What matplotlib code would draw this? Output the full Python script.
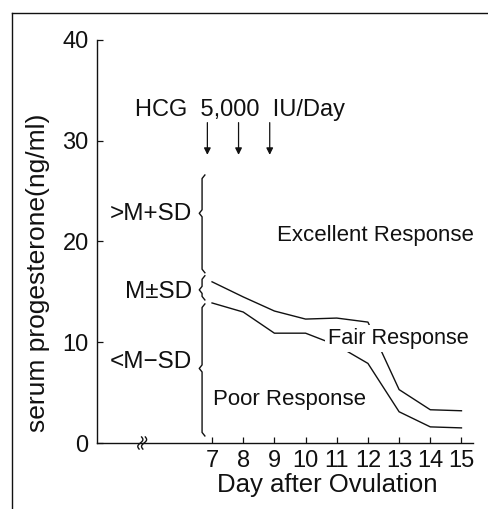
import numpy as np
import matplotlib
matplotlib.use("Agg")
import matplotlib.pyplot as plt
from matplotlib.lines import Line2D

plt.rcParams['font.family'] = ['Liberation Sans', 'DejaVu Sans']

# data
days = [7, 8, 9, 10, 11, 12, 13, 14, 15]
upper_sd = [16.0, 14.5, 13.1, 12.3, 12.4, 12.0, 5.3, 3.3, 3.2]   # M+SD
lower_sd = [13.9, 13.0, 10.9, 10.9, 9.7, 7.9, 3.1, 1.6, 1.5]     # M-SD
hcg_days = [7, 8, 9]
yticks = [0, 10, 20, 30, 40]

# brace bands on the left
band_labels = ['>M+SD', 'M±SD', '<M−SD']
band_top = [26.6, 16.6, 13.8]
band_bottom = [16.9, 14.2, 0.7]
band_mid = [22.8, 15.2, 7.4]
band_text_y = [22.7, 15.0, 8.0]

ink = '#111111'
fs = 16

fig = plt.figure(figsize=(4.88, 5.09), dpi=100)
ax = fig.add_axes([97 / 488, 66 / 509, 376 / 488, 403 / 509])
ax.set_xlim(3.31, 15.37)
ax.set_ylim(0, 40)

for s in ['top', 'right']:
    ax.spines[s].set_visible(False)
for s in ['left', 'bottom']:
    ax.spines[s].set_linewidth(1.0)
    ax.spines[s].set_color(ink)

ax.set_xticks(days)
ax.set_xticklabels([str(d) for d in days])
ax.set_yticks(yticks)
ax.set_yticklabels([str(v) for v in yticks])
ax.tick_params(axis='both', direction='in', length=4, width=0.9, colors=ink,
               labelsize=17)
ax.tick_params(axis='y', pad=6)
ax.tick_params(axis='x', pad=5)

# response curves
ax.plot(days, upper_sd, color=ink, lw=1.0, zorder=2)
ax.plot(days, lower_sd, color=ink, lw=1.0, zorder=2)

# HCG injections
ax.text(4.53, 33.1, 'HCG  5,000  IU/Day', fontsize=17, ha='left', va='center',
        color=ink)
for d in hcg_days:
    ax.annotate('', xy=(d - 0.15, 28.6), xytext=(d - 0.15, 31.8),
                arrowprops=dict(arrowstyle='-|>', color=ink, lw=0.9,
                                mutation_scale=10, shrinkA=0, shrinkB=0))

# braces
bx = 6.68
dx = 0.09
dy = 0.35
for lab, t, b, m, ty in zip(band_labels, band_top, band_bottom, band_mid, band_text_y):
    xs = [bx + dx, bx, bx, bx - dx, bx, bx, bx + dx]
    ys = [t, t - dy, m + dy, m, m - dy, b + dy, b]
    ax.plot(xs, ys, color=ink, lw=1.0, zorder=2)
    ax.text(6.36, ty, lab, fontsize=17.5, ha='right', va='center', color=ink)

# region labels
ax.text(9.08, 20.6, 'Excellent Response', fontsize=fs, ha='left', va='center',
        color=ink)
ax.text(10.72, 10.4, 'Fair Response', fontsize=15.7, ha='left', va='center',
        color=ink, zorder=5,
        bbox=dict(facecolor='white', edgecolor='none', pad=2))
ax.text(7.03, 4.3, 'Poor Response', fontsize=fs, ha='left', va='center',
        color=ink)

# axis break on x axis
t = np.linspace(-1, 1, 40)
for off in [0.0, 0.12]:
    ax.plot(4.70 + off + 0.06 * np.sin(np.pi * t) + 0.04 * t, 0.6 * t,
            color=ink, lw=1.0, clip_on=False, zorder=4)

# axis labels
ax.text(0.612, -0.104, 'Day after Ovulation', transform=ax.transAxes,
        fontsize=18.5, ha='center', va='center', color=ink)
ax.text(-0.157, 0.422, 'serum progesterone(ng/ml)', transform=ax.transAxes,
        fontsize=19, ha='center', va='center', rotation=90, color=ink)

# outer frame (only top and left visible)
fig.add_artist(Line2D([12 / 488, 12 / 488], [0, 496 / 509], color=ink, lw=1.0))
fig.add_artist(Line2D([12 / 488, 1], [496 / 509, 496 / 509], color=ink, lw=1.0))

fig.savefig('out.png', dpi=100)
